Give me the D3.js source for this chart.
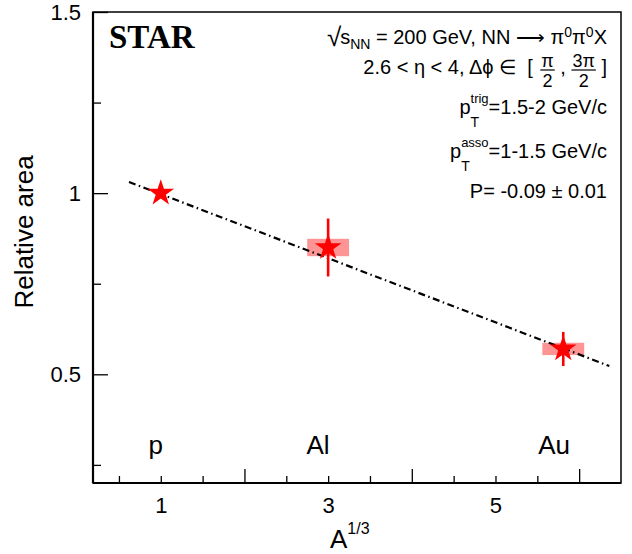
<!DOCTYPE html>
<html>
<head>
<meta charset="utf-8">
<script src="https://cdn.jsdelivr.net/npm/d3@7"></script>
<style>
  body { margin: 0; background: #fff; }
  text { font-family: "Liberation Sans", Arial, Helvetica, sans-serif; fill: #000; white-space: pre; }
</style>
</head>
<body>
<svg id="chart"></svg>
<script>
  const W = 632, H = 554,
        margin = {top: 12, right: 11, bottom: 71, left: 93},
        width = W - margin.left - margin.right,
        height = H - margin.top - margin.bottom;

  // data
  const nuclei = ["p", "Al", "Au"];
  const aThird = [1, 3, 5.81];
  const relArea = [1.0, 0.85, 0.57];
  const statErr = [0, 0.08, 0.047];
  const sysErr = [0, 0.024, 0.017];
  const labelX = [0.94, 2.88, 5.7];
  const labelY = 0.28;

  // fit line end points
  const fitX = [0.62, 6.36];
  const fitY = [1.031, 0.523];

  // axis ticks
  const xLabelTicks = [1, 3, 5];
  const xMajorTicks = [2, 4, 6];
  const xMinorTicks = [0.5, 1, 1.5, 2.5, 3, 3.5, 4.5, 5, 5.5];
  const yMajorTicks = [0.5, 1, 1.5];
  const yMinorTicks = [0.25, 0.75, 1.25];
  const yTickLabels = ["0.5", "1", "1.5"];

  const data = nuclei.map((n, i) => ({
    name: n, x: aThird[i], y: relArea[i], stat: statErr[i], sys: sysErr[i]
  }));

  let x = d3.scaleLinear().domain([0.19, 6.5]).range([0, width]);
  let y = d3.scaleLinear().domain([0.2, 1.5]).range([height, 0]);

  let svg = d3.select("#chart")
              .attr("width", W)
              .attr("height", H);

  let chart = svg.append("g")
                 .attr("transform", "translate(" + margin.left + "," + margin.top + ")");

  // Frame
  chart.append("rect")
       .attr("width", width)
       .attr("height", height)
       .style("fill", "none")
       .style("stroke", "#000")
       .style("stroke-width", 1.5);

  // x-Axis
  let xAxisG = chart.append("g").attr("transform", "translate(0," + height + ")");
  xAxisG.call(d3.axisBottom(x).tickValues(xMajorTicks).tickSizeInner(-14).tickSizeOuter(0).tickFormat(""));
  xAxisG.call(g => g.select(".domain").remove());
  xAxisG.selectAll(".tick line").attr("stroke-width", 1.3);
  xAxisG.append("g")
        .call(d3.axisBottom(x).tickValues(xMinorTicks).tickSizeInner(-7).tickSizeOuter(0).tickFormat(""))
        .call(g => g.select(".domain").remove())
        .selectAll(".tick line").attr("stroke-width", 1.3);
  xAxisG.append("g")
        .call(d3.axisBottom(x).tickValues(xLabelTicks).tickSize(0).tickPadding(14).tickFormat(d3.format("d")))
        .call(g => g.select(".domain").remove())
        .selectAll("text")
        .style("font-size", "22px")
        .attr("font-family", null);
  xAxisG.append("line")
        .attr("x1", 0).attr("x2", width)
        .attr("stroke", "#000").attr("stroke-width", 2.2);

  // y-Axis
  let yAxisG = chart.append("g");
  yAxisG.call(d3.axisLeft(y).tickValues(yMajorTicks).tickSizeInner(-15).tickSizeOuter(0).tickPadding(12)
                .tickFormat((d, i) => yTickLabels[i]));
  yAxisG.call(g => g.select(".domain").remove());
  yAxisG.selectAll(".tick line").attr("stroke-width", 1.3);
  yAxisG.selectAll("text").style("font-size", "22px").attr("font-family", null);
  yAxisG.append("g")
        .call(d3.axisLeft(y).tickValues(yMinorTicks).tickSizeInner(-8).tickSizeOuter(0).tickFormat(""))
        .call(g => g.select(".domain").remove())
        .selectAll(".tick line").attr("stroke-width", 1.3);
  yAxisG.append("line")
        .attr("y1", 0).attr("y2", height)
        .attr("stroke", "#000").attr("stroke-width", 2.2);

  // Axis labels
  svg.append("text")
     .attr("transform", "translate(33,232) rotate(-90)")
     .attr("text-anchor", "middle")
     .style("font-size", "26px")
     .text("Relative area");

  let xl = svg.append("text")
              .attr("x", 330)
              .attr("y", 548)
              .style("font-size", "26px")
              .text("A");
  xl.append("tspan").attr("dy", -14).style("font-size", "16px").text("1/3");

  // Systematic boxes
  chart.selectAll(".sys")
       .data(data.filter(d => d.sys > 0))
       .enter()
       .append("rect")
       .attr("class", "sys")
       .attr("x", d => x(d.x - 0.25))
       .attr("width", d => x(d.x + 0.25) - x(d.x - 0.25))
       .attr("y", d => y(d.y + d.sys))
       .attr("height", d => y(d.y - d.sys) - y(d.y + d.sys))
       .style("fill", "#ff9494");

  // Fit line
  let line = d3.line()
               .x(d => x(d[0]))
               .y(d => y(d[1]));
  chart.append("path")
       .datum(fitX.map((v, i) => [v, fitY[i]]))
       .attr("d", line)
       .style("fill", "none")
       .style("stroke", "#000")
       .style("stroke-width", 2.2)
       .style("stroke-dasharray", "7,3.5,1.5,3.5");

  // Stat error bars
  chart.selectAll(".stat")
       .data(data.filter(d => d.stat > 0))
       .enter()
       .append("line")
       .attr("class", "stat")
       .attr("x1", d => x(d.x)).attr("x2", d => x(d.x))
       .attr("y1", d => y(d.y + d.stat)).attr("y2", d => y(d.y - d.stat))
       .style("stroke", "#ff0000")
       .style("stroke-width", 2.6);

  // Stars
  chart.selectAll(".pt")
       .data(data)
       .enter()
       .append("path")
       .attr("class", "pt")
       .attr("transform", d => "translate(" + x(d.x) + "," + y(d.y) + ")")
       .attr("d", d3.symbol(d3.symbolStar, 220))
       .style("fill", "#ff0000");

  // Nucleus labels
  chart.selectAll(".nuc")
       .data(data)
       .enter()
       .append("text")
       .attr("class", "nuc")
       .attr("x", (d, i) => x(labelX[i]))
       .attr("y", y(labelY))
       .attr("text-anchor", "middle")
       .style("font-size", "26px")
       .text(d => d.name);

  // STAR logo
  svg.append("text")
     .attr("x", 109)
     .attr("y", 48)
     .style("font-family", "'Liberation Serif', 'Times New Roman', serif")
     .style("font-weight", "bold")
     .style("font-size", "33px")
     .text("STAR");

  // Right-aligned rich text lines, built piece by piece
  const rightEdge = 607, fs = 20;
  function richLine (baseline, pieces) {
    let g = svg.append("g");
    let cx = 0;
    pieces.forEach(p => {
      if (p.stack) {
        let w = 0;
        p.stack.forEach(s => {
          let t = g.append("text").attr("x", cx).attr("y", s.dy)
                   .style("font-size", s.size + "px").text(s.t);
          w = Math.max(w, t.node().getComputedTextLength());
        });
        cx += w;
      } else if (p.frac) {
        let nt = g.append("text").attr("y", -7).attr("text-anchor", "middle")
                  .style("font-size", "18px").text(p.frac[0]);
        let dt = g.append("text").attr("y", 13.5).attr("text-anchor", "middle")
                  .style("font-size", "18px").text(p.frac[1]);
        let w = Math.max(nt.node().getComputedTextLength(), dt.node().getComputedTextLength()) + 2;
        nt.attr("x", cx + w / 2);
        dt.attr("x", cx + w / 2);
        g.append("line").attr("x1", cx).attr("x2", cx + w)
         .attr("y1", -3.5).attr("y2", -3.5)
         .attr("stroke", "#000").attr("stroke-width", 1.2);
        cx += w;
      } else {
        let t = g.append("text").attr("x", cx).attr("y", p.dy || 0)
                 .style("font-size", (p.size || fs) + "px").text(p.t);
        cx += t.node().getComputedTextLength();
      }
      cx += p.gap || 0;
    });
    g.attr("transform", "translate(" + (rightEdge - cx) + "," + baseline + ")");
  }

  richLine(44, [
    {t: "\u221A", size: 26, dy: 2, gap: -1},
    {t: "s"},
    {t: "NN", size: 14, dy: 4.5},
    {t: " = 200 GeV, NN \u27F6 \u03C0"},
    {t: "0", size: 14, dy: -7},
    {t: "\u03C0"},
    {t: "0", size: 14, dy: -7},
    {t: "X"}
  ]);
  richLine(73.5, [
    {t: "2.6 < \u03B7 < 4, \u0394\u03D5 \u2208  [ ", gap: 2},
    {frac: ["\u03C0", "2"]},
    {t: " , "},
    {frac: ["3\u03C0", "2"]},
    {t: " ]"}
  ]);
  richLine(113.5, [
    {t: "p"},
    {stack: [{t: "trig", size: 13, dy: -11}, {t: "T", size: 14, dy: 13.5}]},
    {t: "=1.5-2 GeV/c"}
  ]);
  richLine(157.5, [
    {t: "p"},
    {stack: [{t: "asso", size: 13, dy: -11}, {t: "T", size: 14, dy: 13.5}]},
    {t: "=1-1.5 GeV/c"}
  ]);
  richLine(197.5, [
    {t: "P= -0.09 \u00B1 0.01"}
  ]);
</script>
</body>
</html>
